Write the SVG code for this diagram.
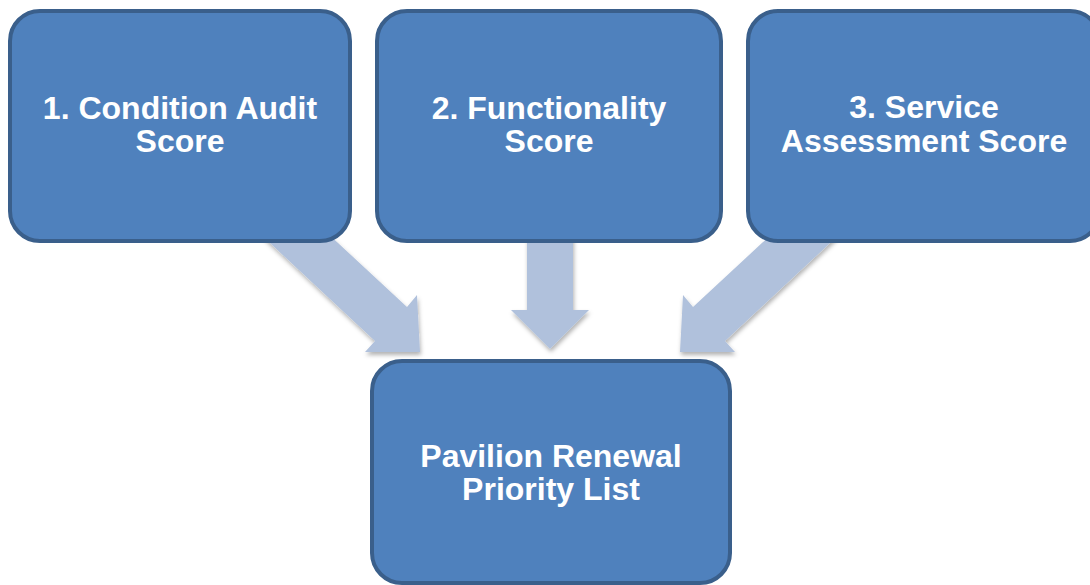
<svg xmlns="http://www.w3.org/2000/svg" width="1090" height="585" viewBox="0 0 1090 585">
<style>
.box{fill:#4F81BD;stroke:#3A5F8B;stroke-width:4}
.lbl{font-family:"Liberation Sans",Arial,sans-serif;font-weight:bold;font-size:32px;fill:#FFFFFF;text-anchor:middle}
.arr{fill:#B0C1DC;filter:url(#sh)}
</style>
<defs>
<filter id="sh" x="-20%" y="-20%" width="140%" height="140%">
<feDropShadow dx="1" dy="3" stdDeviation="2" flood-color="#000" flood-opacity="0.3"/>
</filter>
</defs>
<rect width="1090" height="585" fill="#FFFFFF"/>
<g id="connectors">
<polygon class="arr" points="527,230 573,230 573,310 589,310 550,349 511,310 527,310"/>
<polygon class="arr" points="324,230 407,307 417,295 420,352 365,352 375,341 256,230"/>
<polygon class="arr" points="776,230 693,307 683,295 680,352 735,352 725,341 844,230"/>
</g>
<g id="n1">
<rect class="box" x="10" y="11" width="340" height="230" rx="30"/>
<text class="lbl" x="180" y="119">1. Condition Audit</text>
<text class="lbl" x="180" y="152">Score</text>
</g>
<g id="n2">
<rect class="box" x="377" y="11" width="344" height="230" rx="30"/>
<text class="lbl" x="549" y="119">2. Functionality</text>
<text class="lbl" x="549" y="152">Score</text>
</g>
<g id="n3">
<rect class="box" x="748" y="11" width="352" height="230" rx="30"/>
<text class="lbl" x="924" y="118">3. Service</text>
<text class="lbl" x="924" y="152">Assessment Score</text>
</g>
<g id="n4">
<rect class="box" x="372" y="361" width="358" height="222" rx="30"/>
<text class="lbl" x="551" y="467">Pavilion Renewal</text>
<text class="lbl" x="551" y="500">Priority List</text>
</g>
</svg>
